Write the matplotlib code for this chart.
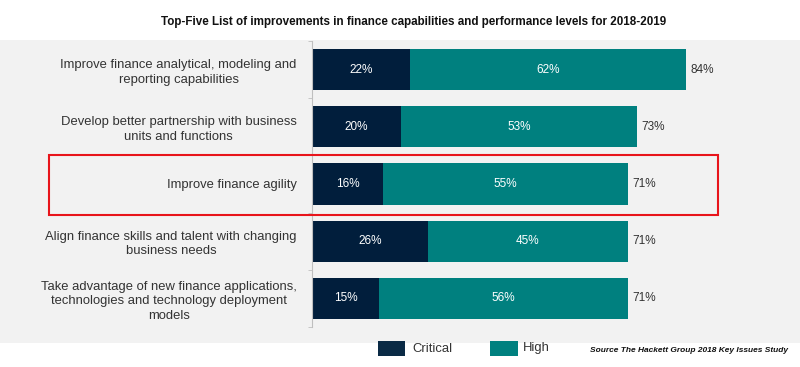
import matplotlib
matplotlib.use('Agg')
import matplotlib.pyplot as plt
from matplotlib.patches import Rectangle
import numpy as np

plt.rcParams['font.family'] = ['Liberation Sans', 'DejaVu Sans']

# data
categories = ["Improve finance analytical, modeling and\nreporting capabilities",
              "Develop better partnership with business\nunits and functions",
              "Improve finance agility",
              "Align finance skills and talent with changing\nbusiness needs",
              "Take advantage of new finance applications,\ntechnologies and technology deployment\nmodels"]
critical = [22, 20, 16, 26, 15]
high = [62, 53, 55, 45, 56]
totals = [84, 73, 71, 71, 71]

c_dark = '#011E3C'
c_teal = '#00807F'

W, H = 800, 367
fig = plt.figure(figsize=(W/100, H/100), dpi=100)

# grey band behind the chart
fig.patches.append(Rectangle((0, 1-343/H), 1, (343-40)/H, transform=fig.transFigure,
                             facecolor='#F2F2F2', edgecolor='none', zorder=-10))

ax = fig.add_axes([312/W, 1-327/H, 445/W, 286/H])
ax.patch.set_alpha(0)

y = np.arange(len(categories))
ax.barh(y, critical, height=0.72, color=c_dark, label='Critical')
ax.barh(y, high, left=critical, height=0.72, color=c_teal, label='High')

for i in range(len(y)):
    ax.text(critical[i]/2, y[i], f"{critical[i]}%", ha='center', va='center', color='white', fontsize=8.5)
    ax.text(critical[i] + high[i]/2, y[i], f"{high[i]}%", ha='center', va='center', color='white', fontsize=8.5)
    ax.text(totals[i] + 1, y[i], f"{totals[i]}%", ha='left', va='center', color='#333333', fontsize=8.5)

ax.set_xlim(0, 100)
ax.set_ylim(4.5, -0.5)
ax.set_xticks([])
ax.set_yticks(y)
ax.set_yticklabels(categories, fontsize=9.4, color='#333333')
for lbl in ax.get_yticklabels():
    lbl.set_multialignment('center')
    lbl.set_linespacing(1.3)
ax.tick_params(axis='y', length=0, pad=11)
ax.set_yticks(np.arange(-0.5, 5, 1), minor=True)
ax.tick_params(axis='y', which='minor', length=3, color='#BFBFBF')
for s in ['top', 'right', 'bottom']:
    ax.spines[s].set_visible(False)
ax.spines['left'].set_color('#BFBFBF')

fig.text(414/W, 1-22/H, "Top-Five List of improvements in finance capabilities and performance levels for 2018-2019",
         ha='center', va='center', fontsize=8.4, fontweight='bold', color='#111111')

# highlight box
fig.patches.append(Rectangle((49/W, 1-215/H), (718-49)/W, 60/H, transform=fig.transFigure,
                             facecolor='none', edgecolor='#E8141B', linewidth=1.5, zorder=5))

# legend
fig.patches.append(Rectangle((378/W, 1-356/H), 27/W, 15/H, transform=fig.transFigure,
                             facecolor='#0A2A45', edgecolor='none', zorder=3))
fig.text(412/W, 1-349/H, "Critical", ha='left', va='center', fontsize=9.4, color='#333333')
fig.patches.append(Rectangle((490/W, 1-356/H), 28/W, 15/H, transform=fig.transFigure,
                             facecolor=c_teal, edgecolor='none', zorder=3))
fig.text(523/W, 1-348/H, "High", ha='left', va='center', fontsize=9.4, color='#333333')

fig.text(788/W, 1-351/H, "Source The Hackett Group 2018 Key Issues Study", ha='right', va='center',
         fontsize=6, fontweight='bold', fontstyle='italic', color='#111111')

fig.savefig('out.png', dpi=100)
